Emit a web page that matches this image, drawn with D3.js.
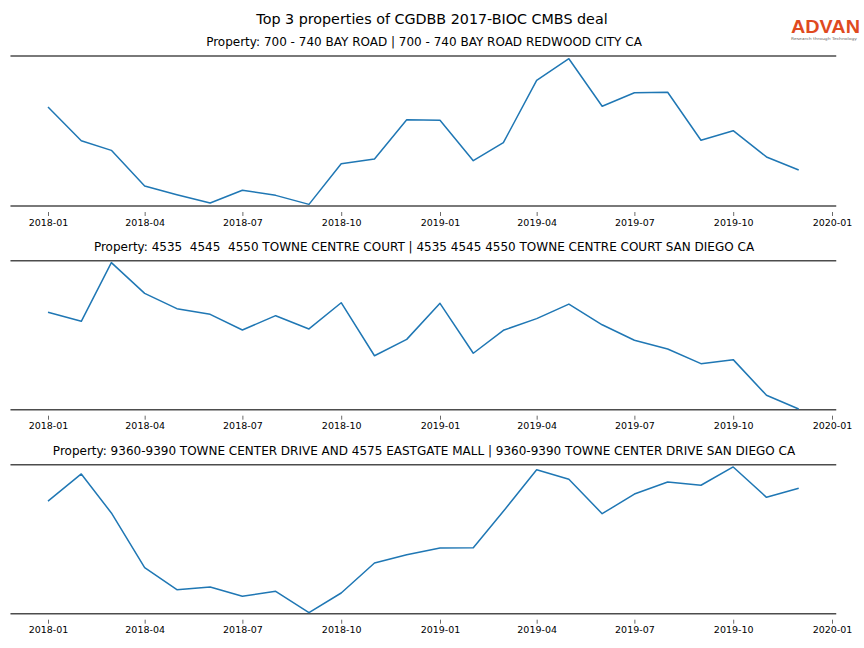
<!DOCTYPE html>
<html>
<head>
<meta charset="utf-8">
<script src="https://cdn.jsdelivr.net/npm/d3@7"></script>
<style>
  html, body { margin: 0; padding: 0; background: #fff; }
  svg { display: block; font-family: "DejaVu Sans", sans-serif; }
  .ptitle { white-space: pre; }
</style>
</head>
<body>
<svg id="chart" width="864" height="648"></svg>
<script>
// ---- Data (relative activity index per property) ----
const months = ["2018-01","2018-02","2018-03","2018-04","2018-05","2018-06","2018-07","2018-08","2018-09","2018-10","2018-11","2018-12",
                "2019-01","2019-02","2019-03","2019-04","2019-05","2019-06","2019-07","2019-08","2019-09","2019-10","2019-11","2019-12"];
const tickLabels = ["2018-01","2018-04","2018-07","2018-10","2019-01","2019-04","2019-07","2019-10","2020-01"];
const mainTitle = "Top 3 properties of CGDBB 2017-BIOC CMBS deal";
const panelTitles = [
  "Property: 700 - 740 BAY ROAD | 700 - 740 BAY ROAD REDWOOD CITY CA",
  "Property: 4535  4545  4550 TOWNE CENTRE COURT | 4535 4545 4550 TOWNE CENTRE COURT SAN DIEGO CA",
  "Property: 9360-9390 TOWNE CENTER DRIVE AND 4575 EASTGATE MALL | 9360-9390 TOWNE CENTER DRIVE SAN DIEGO CA"
];
const series1 = [66.0,43.5,37.1,13.3,7.5,2.0,10.5,7.1,1.1,28.2,31.3,57.5,57.1,30.2,42.2,83.8,98.2,66.5,75.5,75.8,43.8,50.2,32.7,24.0];
const series2 = [65.4,59.3,98.7,78.1,67.8,64.0,53.5,63.1,54.2,71.8,36.2,47.2,71.4,37.9,53.3,61.1,70.9,57.0,46.6,40.7,30.9,33.6,9.7,0.5];
const series3 = [75.6,93.8,67.6,30.9,16.1,17.9,11.7,15.0,0.7,13.9,34.0,39.6,44.1,44.3,68.7,96.6,90.2,67.1,80.3,88.4,86.2,98.5,78.1,84.2];
const allSeries = [series1, series2, series3];

const parse = d3.timeParse("%Y-%m");
const dates = months.map(parse);
const tickDates = tickLabels.map(parse);

const svg = d3.select("#chart");

// x scale: 2018-01 -> 48px, 2020-01 -> 832px
const x = d3.scaleTime().domain([parse("2018-01"), parse("2020-01")]).range([48, 832]);
const span = dates[dates.length-1] - dates[0];
const xLeft = x(new Date(dates[0].getTime() - span*0.05));
const xRight = x(new Date(dates[dates.length-1].getTime() + span*0.05));

// Main title
svg.append("text").attr("x", 432).attr("y", 24).attr("text-anchor", "middle")
  .attr("font-size", 14.3).attr("fill", "#000").text(mainTitle);

// Logo
const logo = svg.append("g");
logo.append("text").attr("x", 825.5).attr("y", 33).attr("text-anchor", "middle")
  .attr("font-family", "Liberation Sans, Arial, sans-serif").attr("font-size", 17.5).attr("font-weight", "bold")
  .attr("fill", "#df4a1f").attr("textLength", 69).attr("lengthAdjust", "spacingAndGlyphs").text("ADVAN");
logo.append("text").attr("x", 824).attr("y", 40).attr("text-anchor", "middle")
  .attr("font-size", 3.8).attr("fill", "#666").attr("textLength", 66).attr("lengthAdjust", "spacingAndGlyphs")
  .text("Research through Technology");

const tops = [56, 260.7, 464.7];
const heights = [150, 149, 149];

allSeries.forEach((vals, i) => {
  const top = tops[i], bottom = tops[i] + heights[i];
  const y = d3.scaleLinear().domain([0, 100]).range([bottom, top]);
  const g = svg.append("g");

  // panel title
  g.append("text").attr("class", "ptitle").attr("x", 424).attr("y", top - 10).attr("text-anchor", "middle")
    .attr("font-size", 12).attr("fill", "#000").text(panelTitles[i]);

  // spines (top & bottom)
  [top, bottom].forEach(yy => {
    g.append("line").attr("x1", xLeft).attr("x2", xRight).attr("y1", yy).attr("y2", yy)
      .attr("stroke", "#4d4d4d").attr("stroke-width", 1.6);
  });

  // x axis
  const axis = d3.axisBottom(x).tickValues(tickDates).tickFormat(d3.timeFormat("%Y-%m"))
    .tickSizeInner(4).tickSizeOuter(0).tickPadding(3);
  const ax = g.append("g").attr("transform", `translate(0,${bottom + 6})`).call(axis);
  ax.select(".domain").remove();
  ax.selectAll(".tick line").attr("stroke", "#444").attr("stroke-width", 0.8);
  ax.selectAll(".tick text").attr("font-size", 9.5).attr("font-family", "DejaVu Sans, sans-serif").attr("fill", "#000");

  // line
  const line = d3.line().x((d, j) => x(dates[j])).y(d => y(d));
  g.append("path").datum(vals).attr("d", line).attr("fill", "none")
    .attr("stroke", "#1f77b4").attr("stroke-width", 1.5).attr("stroke-linejoin", "round");
});
</script>
</body>
</html>
